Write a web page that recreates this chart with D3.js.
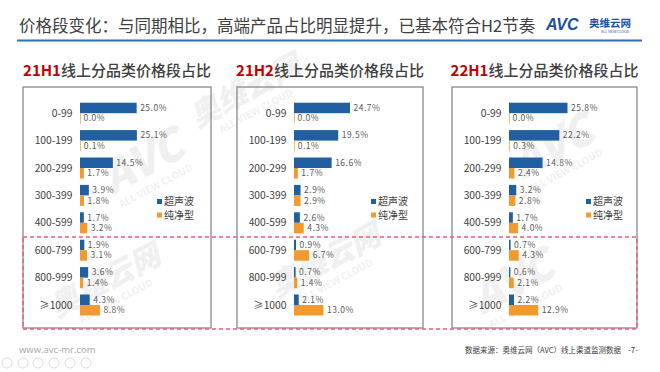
<!DOCTYPE html>
<html>
<head>
<meta charset="utf-8">
<script src="https://cdn.jsdelivr.net/npm/d3@7/dist/d3.min.js"></script>
<style>
  body { margin: 0; background: #fff; }
  svg { display: block; font-family: "Noto Sans CJK SC", "Noto Sans", sans-serif; }
  .cat { font-size: 10.3px; fill: #404040; }
  .val { font-size: 8.5px; fill: #595959; letter-spacing: 0.5px; }
  .leg { font-size: 10px; fill: #404040; }
</style>
</head>
<body>
<svg id="vec" width="660" height="372"></svg>
<script>
const categories = ["0-99", "100-199", "200-299", "300-399", "400-599", "600-799", "800-999", "≥1000"];
const series = ["超声波", "纯净型"];
const periods = ["21H1", "21H2", "22H1"];

// 超声波 / 纯净型 share (%) per period
const ultrasonic21H1 = [25.0, 25.1, 14.5, 3.9, 1.7, 1.9, 3.6, 4.3];
const pure21H1 = [0.0, 0.1, 1.7, 1.8, 3.2, 3.1, 1.4, 8.8];
const ultrasonic21H2 = [24.7, 19.5, 16.6, 2.9, 2.6, 0.9, 0.7, 2.1];
const pure21H2 = [0.0, 0.1, 1.7, 2.9, 4.3, 6.7, 1.4, 13.0];
const ultrasonic22H1 = [25.8, 22.2, 14.8, 3.2, 1.7, 0.7, 0.6, 2.2];
const pure22H1 = [0.0, 0.3, 2.4, 2.8, 4.0, 4.3, 2.1, 12.9];

const panelData = [
  [ultrasonic21H1, pure21H1],
  [ultrasonic21H2, pure21H2],
  [ultrasonic22H1, pure22H1]
];

const colors = { "超声波": "#1f5fa2", "纯净型": "#f29a2e" };

const svg = d3.select("#vec");

// faint watermarks
const marks = [[150, 175], [330, 270], [560, 160], [110, 290], [520, 295], [250, 100]];
marks.forEach(([x, y], i) => {
  const g = svg.append("g")
    .attr("transform", `translate(${x},${y}) rotate(-28)`)
    .attr("opacity", 0.055);
  g.append("text")
    .attr("text-anchor", "middle")
    .attr("font-size", i % 2 ? 30 : 44)
    .attr("font-weight", 900)
    .attr("font-style", "italic")
    .attr("fill", "#000")
    .text(i % 2 ? "奥维云网" : "AVC");
  g.append("text")
    .attr("text-anchor", "middle")
    .attr("y", 16)
    .attr("font-size", 10)
    .attr("font-weight", 700)
    .attr("fill", "#000")
    .text("ALL VIEW CLOUD");
});

// header
svg.append("text")
  .attr("x", 19)
  .attr("y", 32)
  .attr("font-size", 16.5)
  .attr("fill", "#404040")
  .text("价格段变化：与同期相比，高端产品占比明显提升，已基本符合H2节奏");

svg.append("line")
  .attr("x1", 17).attr("x2", 642)
  .attr("y1", 40.5).attr("y2", 40.5)
  .attr("stroke", "#2e6fb4")
  .attr("stroke-width", 2);

svg.append("text")
  .attr("x", 546).attr("y", 29.5)
  .attr("font-family", "Liberation Sans, sans-serif")
  .attr("font-size", 16)
  .attr("font-weight", 900)
  .attr("font-style", "italic")
  .attr("fill", "#1d4f9f")
  .text("AVC");
svg.append("text")
  .attr("x", 589).attr("y", 27)
  .attr("font-size", 10.5)
  .attr("font-weight", 700)
  .attr("fill", "#1d4f9f")
  .text("奥维云网");
svg.append("text")
  .attr("x", 615).attr("y", 33)
  .attr("text-anchor", "middle")
  .attr("font-size", 3.6)
  .attr("fill", "#1d4f9f")
  .text("ALL VIEW CLOUD");

// panels
const boxes = [
  { x: 23, w: 188 },
  { x: 237, w: 186 },
  { x: 452, w: 185 }
];
const boxTop = 87, boxBottom = 328;

const y = d3.scaleBand()
  .domain(categories)
  .range([99.5, 318.7])
  .paddingInner(0.234)
  .paddingOuter(0.117);

const ySub = d3.scaleBand()
  .domain(series)
  .range([0, y.bandwidth()]);

const x = d3.scaleLinear().domain([0, 30]).range([0, 68]);

periods.forEach((period, p) => {
  const b = boxes[p];
  const cx = b.x + b.w / 2;

  const title = svg.append("text")
    .attr("x", cx)
    .attr("y", 76)
    .attr("text-anchor", "middle")
    .attr("font-size", 15)
    .attr("font-weight", 700);
  title.append("tspan").attr("fill", "#c00000").text(period);
  title.append("tspan").attr("fill", "#404040").attr("font-weight", 500).text("线上分品类价格段占比");

  svg.append("rect")
    .attr("x", b.x).attr("y", boxTop)
    .attr("width", b.w).attr("height", boxBottom - boxTop)
    .attr("fill", "none")
    .attr("stroke", "#7f7f7f")
    .attr("stroke-width", 1.2);

  const chart = svg.append("g").attr("transform", `translate(${b.x + 57},0)`);

  chart.selectAll(".cat")
    .data(categories)
    .enter()
    .append("text")
    .attr("class", "cat")
    .attr("x", -7.5)
    .attr("y", c => y(c) + y.bandwidth() / 2)
    .attr("dy", "0.35em")
    .attr("text-anchor", "end")
    .text(c => c);

  series.forEach((s, si) => {
    const vals = panelData[p][si];
    const rows = categories.map((c, i) => ({ c, v: vals[i] }));

    chart.selectAll(null)
      .data(rows)
      .enter()
      .append("rect")
      .attr("x", 0)
      .attr("y", d => y(d.c) + ySub(s))
      .attr("width", d => Math.max(x(d.v), 0.7))
      .attr("height", ySub.bandwidth())
      .attr("fill", colors[s]);

    chart.selectAll(null)
      .data(rows)
      .enter()
      .append("text")
      .attr("class", "val")
      .attr("x", d => x(d.v) + 3.5)
      .attr("y", d => y(d.c) + ySub(s) + ySub.bandwidth() / 2)
      .attr("dy", "0.35em")
      .text(d => `${d.v.toFixed(1)}%`);
  });

  const leg = svg.append("g").attr("transform", `translate(${b.x + 134},0)`);
  series.forEach((s, si) => {
    const ly = 201.5 + si * 13.5;
    leg.append("rect")
      .attr("x", 0).attr("y", ly - 2.5)
      .attr("width", 5).attr("height", 5)
      .attr("fill", colors[s]);
    leg.append("text")
      .attr("class", "leg")
      .attr("x", 7)
      .attr("y", ly)
      .attr("dy", "0.35em")
      .text(s);
  });
});

// high-end highlight
svg.append("rect")
  .attr("x", 23).attr("y", 237)
  .attr("width", 614).attr("height", 92)
  .attr("fill", "none")
  .attr("stroke", "#ee5a73")
  .attr("stroke-width", 1.4)
  .attr("stroke-dasharray", "4,3");

// footer
svg.append("text")
  .attr("x", 19).attr("y", 353)
  .attr("font-family", "Open Sans, sans-serif")
  .attr("font-size", 9.5)
  .attr("fill", "#a6a6a6")
  .text("www.avc-mr.com");

[7, 23, 38, 54, 70, 86].forEach(cx => {
  svg.append("circle")
    .attr("cx", cx).attr("cy", 363).attr("r", 5)
    .attr("fill", "none")
    .attr("stroke", "#d0d0d0")
    .attr("stroke-width", 0.8);
});

svg.append("text")
  .attr("x", 465).attr("y", 353)
  .attr("font-size", 7.5)
  .attr("fill", "#404040")
  .text("数据来源：奥维云网（AVC）线上渠道监测数据");

svg.append("text")
  .attr("x", 628).attr("y", 353)
  .attr("font-size", 8)
  .attr("fill", "#404040")
  .text("-7-");
</script>
</body>
</html>
